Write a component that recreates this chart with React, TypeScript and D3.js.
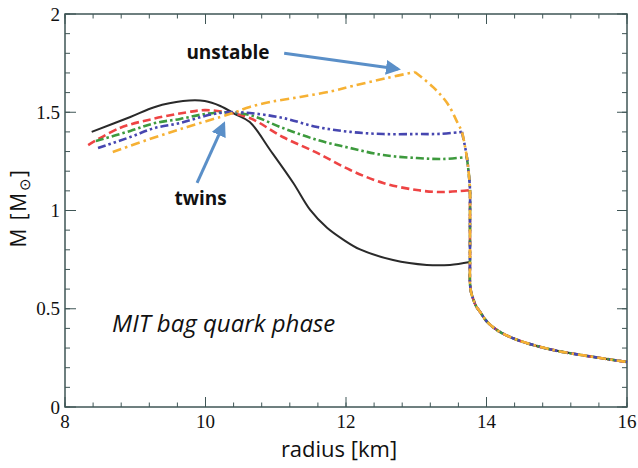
import React from "react";
import * as d3 from "d3";

// ---- data (radius [km], mass [Msun]) ----
const hadronicR = [12.98, 13.24, 13.44, 13.59, 13.65, 13.69, 13.72, 13.75, 13.765, 13.765, 13.765, 13.765, 13.78, 13.81, 13.85, 13.91, 14.01, 14.19, 14.48, 14.95, 15.43, 16.0];
const hadronicM = [1.705, 1.628, 1.547, 1.445, 1.40, 1.333, 1.272, 1.18, 1.104, 0.95, 0.738, 0.631, 0.585, 0.55, 0.514, 0.483, 0.433, 0.382, 0.336, 0.29, 0.26, 0.229];

const blackR = [8.38, 8.93, 9.28, 9.68, 9.99, 10.21, 10.42, 10.63, 10.92, 11.25, 11.49, 11.73, 11.96, 12.2, 12.67, 13.15, 13.48, 13.765];
const blackM = [1.40, 1.476, 1.527, 1.557, 1.557, 1.532, 1.491, 1.45, 1.308, 1.14, 1.003, 0.912, 0.852, 0.802, 0.748, 0.723, 0.723, 0.738];

const redR = [8.33, 8.78, 9.25, 9.74, 9.99, 10.3, 10.63, 11.1, 11.59, 12.06, 12.53, 13.01, 13.34, 13.62, 13.765];
const redM = [1.333, 1.42, 1.466, 1.50, 1.511, 1.50, 1.471, 1.374, 1.293, 1.206, 1.14, 1.104, 1.094, 1.099, 1.104];

const greenR = [8.44, 8.93, 9.28, 9.64, 9.99, 10.3, 10.63, 11.1, 11.59, 12.06, 12.53, 13.01, 13.38, 13.72];
const greenM = [1.354, 1.405, 1.445, 1.466, 1.491, 1.50, 1.486, 1.42, 1.359, 1.318, 1.282, 1.267, 1.262, 1.272];

const blueR = [8.47, 8.93, 9.28, 9.64, 9.99, 10.3, 10.63, 11.1, 11.59, 12.06, 12.53, 13.01, 13.34, 13.65];
const blueM = [1.318, 1.374, 1.42, 1.445, 1.481, 1.50, 1.496, 1.471, 1.425, 1.40, 1.389, 1.389, 1.39, 1.40];

const orangeR = [8.68, 9.25, 9.74, 10.21, 10.42, 10.63, 10.92, 11.35, 11.81, 12.1, 12.58, 12.98];
const orangeM = [1.298, 1.369, 1.425, 1.476, 1.50, 1.527, 1.552, 1.578, 1.608, 1.634, 1.674, 1.705];

const xTicks = [8, 10, 12, 14, 16];
const yTicks = [0, 0.5, 1, 1.5, 2];
const yTickLabels = ["0", "0.5", "1", "1.5", "2"];

type Pt = [number, number];
const zip = (r: number[], m: number[]): Pt[] => r.map((v, i) => [v, m[i]] as Pt);

// own (quark/hybrid) branch, and shared hadronic tail starting at the junction point
function branches(r: number[], m: number[]): [Pt[], Pt[]] {
  const own = zip(r, m);
  const junction = own[own.length - 1];
  const tail = zip(hadronicR, hadronicM).filter((p) => p[1] < junction[1] - 1e-6);
  return [own, [junction, ...tail]];
}

const series = [
  { name: "black", parts: branches(blackR, blackM), color: "#2a2a2a", dash: "none", w: 2 },
  { name: "red", parts: branches(redR, redM), color: "#ee4444", dash: "8 4", w: 2.6 },
  { name: "green", parts: branches(greenR, greenM), color: "#3d9a3d", dash: "8 3 2.5 3", w: 2.6 },
  { name: "blue", parts: branches(blueR, blueM), color: "#4646b0", dash: "8 3 2.5 3 2.5 3", w: 2.6 },
  { name: "orange", parts: branches(orangeR, orangeM), color: "#f6b134", dash: "9 4 2.5 4", w: 2.6 },
];

export default function App() {
  const W = 638, H = 468;
  const L = 65, R = 627, T = 14, B = 407;
  const x = d3.scaleLinear().domain([8, 16]).range([L, R]);
  const y = d3.scaleLinear().domain([0, 2]).range([B, T]);
  const line = d3
    .line<Pt>()
    .x((d) => x(d[0]))
    .y((d) => y(d[1]))
    .curve(d3.curveCatmullRom.alpha(0.5));

  const xMinor = d3.range(8, 16.0001, 0.4);
  const yMinor = d3.range(0, 2.0001, 0.1);
  const axisColor = "#3f5656";
  const arrowColor = "#5a8fc8";

  return (
    <svg width={W} height={H} style={{ position: "absolute", left: 0, top: 0, background: "#fff" }}>
      <defs>
        <marker id="ah" viewBox="0 0 10 10" refX="8" refY="5" markerWidth="5" markerHeight="5" orient="auto">
          <path d="M0,0 L10,5 L0,10 z" fill={arrowColor} />
        </marker>
      </defs>
      {/* minor ticks */}
      {xMinor.map((v, i) => (
        <g key={"xm" + i} stroke={axisColor} strokeWidth={1}>
          <line x1={x(v)} x2={x(v)} y1={B} y2={B - 4.5} />
          <line x1={x(v)} x2={x(v)} y1={T} y2={T + 4.5} />
        </g>
      ))}
      {yMinor.map((v, i) => (
        <g key={"ym" + i} stroke={axisColor} strokeWidth={1}>
          <line x1={L} x2={L + 5} y1={y(v)} y2={y(v)} />
          <line x1={R} x2={R - 5} y1={y(v)} y2={y(v)} />
        </g>
      ))}
      {xTicks.map((v) => (
        <g key={"xt" + v} stroke={axisColor} strokeWidth={1}>
          <line x1={x(v)} x2={x(v)} y1={B} y2={B - 10} />
          <line x1={x(v)} x2={x(v)} y1={T} y2={T + 10} />
        </g>
      ))}
      {yTicks.map((v) => (
        <g key={"yt" + v} stroke={axisColor} strokeWidth={1}>
          <line x1={L} x2={L + 11} y1={y(v)} y2={y(v)} />
          <line x1={R} x2={R - 10} y1={y(v)} y2={y(v)} />
        </g>
      ))}
      <rect x={L} y={T} width={R - L} height={B - T} fill="none" stroke={axisColor} strokeWidth={1.5} />

      {/* tick labels */}
      {xTicks.map((v) => (
        <text key={"xl" + v} x={x(v)} y={B + 21} textAnchor="middle" fontFamily="Liberation Serif" fontSize={19} fill="#111">
          {v}
        </text>
      ))}
      {yTicks.map((v, i) => (
        <text key={"yl" + v} x={L - 5} y={y(v) + 6.5} textAnchor="end" fontFamily="Liberation Serif" fontSize={19} fill="#111">
          {yTickLabels[i]}
        </text>
      ))}

      {/* curves */}
      {series.map((s) => (
        <path
          key={s.name}
          d={s.parts.map((p) => line(p) || "").join("")}
          fill="none"
          stroke={s.color}
          strokeWidth={s.w}
          strokeDasharray={s.dash}
          strokeLinejoin="round"
        />
      ))}

      {/* axis titles */}
      <text x={339} y={457} textAnchor="middle" fontFamily="Open Sans" fontSize={22} fill="#111">
        radius [km]
      </text>
      <text transform="translate(26,208) rotate(-90)" textAnchor="middle" fontFamily="Open Sans" fontSize={21} letterSpacing={1.5} fill="#111">
        M [M<tspan fontSize={15} dy={4}>⊙</tspan><tspan dy={-4}>]</tspan>
      </text>

      {/* annotations */}
      <line x1={x(11.12)} y1={y(1.80)} x2={x(12.74)} y2={y(1.72)} stroke={arrowColor} strokeWidth={3} markerEnd="url(#ah)" />
      <line x1={x(9.88)} y1={y(1.14)} x2={x(10.26)} y2={y(1.44)} stroke={arrowColor} strokeWidth={3} markerEnd="url(#ah)" />
      <text x={x(10.32)} y={y(1.77)} textAnchor="middle" fontFamily="Open Sans" fontWeight="bold" fontSize={19} fill="#111">
        unstable
      </text>
      <text x={x(9.93)} y={y(1.03)} textAnchor="middle" fontFamily="Open Sans" fontWeight="bold" fontSize={19} fill="#111">
        twins
      </text>
      <text x={x(8.67)} y={y(0.383)} fontFamily="Open Sans" fontStyle="italic" fontSize={24} fill="#111">
        MIT bag quark phase
      </text>
    </svg>
  );
}
